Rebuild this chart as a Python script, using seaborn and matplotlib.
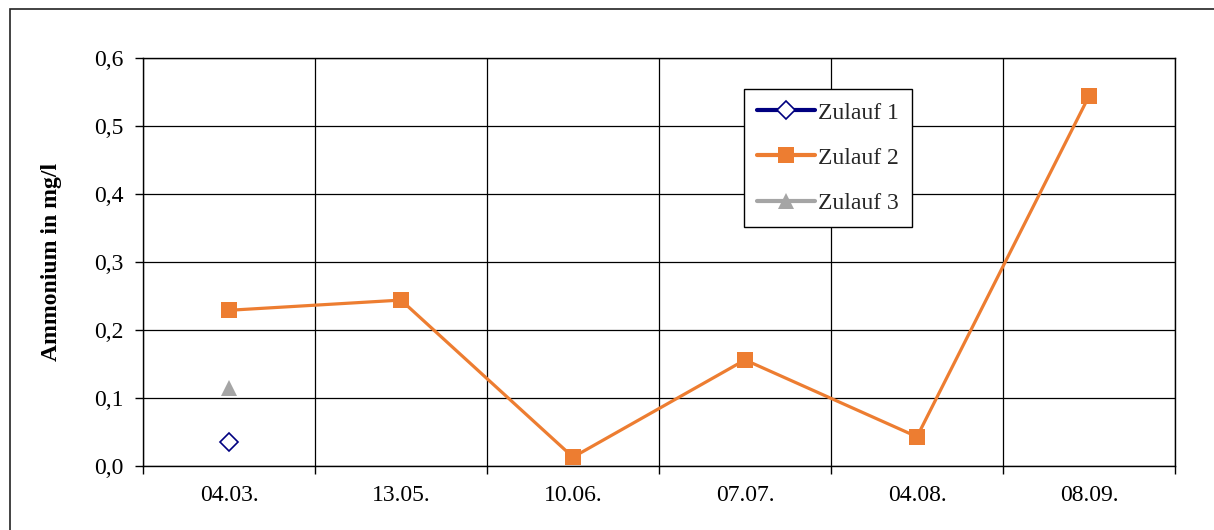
import matplotlib
matplotlib.use("Agg")
import matplotlib.pyplot as plt
from matplotlib.lines import Line2D
from matplotlib.patches import Rectangle
from matplotlib.ticker import FuncFormatter, FixedLocator
import seaborn as sns
import pandas as pd
import numpy as np

dates = ["04.03.", "13.05.", "10.06.", "07.07.", "04.08.", "08.09."]
zulauf1 = [0.035, None, None, None, None, None]
zulauf2 = [0.229, 0.244, 0.013, 0.156, 0.043, 0.544]
zulauf3 = [0.114, None, None, None, None, None]
series_names = ["Zulauf 1", "Zulauf 2", "Zulauf 3"]
y_ticks = [0.0, 0.1, 0.2, 0.3, 0.4, 0.5, 0.6]

sns.set_theme(style="white")
plt.rcParams["font.family"] = ["Liberation Serif", "DejaVu Serif"]

rows = []
for name, vals in zip(series_names, [zulauf1, zulauf2, zulauf3]):
    for i, v in enumerate(vals):
        if v is not None:
            rows.append({"pos": i, "value": v, "series": name})
df = pd.DataFrame(rows)

FS = 17

fig = plt.figure(figsize=(12.14, 5.30), dpi=100)
ax = fig.add_axes([143 / 1214, 1 - 466 / 530, (1175 - 143) / 1214, (466 - 58) / 530])

styles = {
    "Zulauf 1": dict(color="#000080", marker="D", ms=9, mfc="white", mec="#000080", mew=1.2, lw=3),
    "Zulauf 2": dict(color="#ED7D31", marker="s", ms=11, mfc="#ED7D31", mec="#ED7D31", mew=0, lw=2.4),
    "Zulauf 3": dict(color="#A5A5A5", marker="^", ms=12, mfc="#A5A5A5", mec="#A5A5A5", mew=0, lw=3),
}

for name in series_names:
    st = styles[name]
    sub = df[df["series"] == name]
    sns.lineplot(data=sub, x="pos", y="value", ax=ax, color=st["color"],
                 marker=st["marker"], markersize=st["ms"], markerfacecolor=st["mfc"],
                 markeredgecolor=st["mec"], markeredgewidth=st["mew"],
                 linewidth=2.3, legend=False, zorder=3)

ax.set_xlim(-0.5, len(dates) - 0.5)
ax.set_ylim(0, 0.6)
ax.set_xticks(range(len(dates)))
ax.set_xticklabels(dates)
ax.xaxis.set_minor_locator(FixedLocator(np.arange(-0.5, len(dates), 1.0)))
ax.set_yticks(y_ticks)
ax.yaxis.set_major_formatter(FuncFormatter(lambda v, p: f"{v:.1f}".replace(".", ",")))
ax.tick_params(axis="x", which="major", length=0, pad=14, labelsize=FS, colors="black")
ax.tick_params(axis="x", which="minor", length=6, width=1, direction="out", color="black", bottom=True)
ax.tick_params(axis="y", which="major", length=6, width=1, direction="out", left=True, pad=8,
               labelsize=FS, colors="black", color="black")
ax.grid(False)
ax.grid(True, axis="y", which="major", color="black", linewidth=0.9)
ax.grid(True, axis="x", which="minor", color="black", linewidth=0.9)
for s in ax.spines.values():
    s.set_color("black")
    s.set_linewidth(1.0)
ax.set_xlabel("")
ax.set_ylabel("Ammonium in mg/l", fontsize=FS, fontweight="bold", color="black")
ax.yaxis.set_label_coords((62 - 143) / 1032, 0.5)

handles = []
for name in series_names:
    st = styles[name]
    handles.append(Line2D([0], [0], color=st["color"], lw=3, marker=st["marker"],
                          markersize=st["ms"], markerfacecolor=st["mfc"],
                          markeredgecolor=st["mec"], markeredgewidth=st["mew"]))
leg = ax.legend(handles, series_names, loc="upper left",
                bbox_to_anchor=((744 - 143) / 1032, (466 - 89) / 408),
                borderaxespad=0, frameon=True, fancybox=False, fontsize=FS,
                handlelength=2.45, handletextpad=0.12, labelspacing=1.0,
                borderpad=0.55, framealpha=1)
leg.get_frame().set_edgecolor("black")
leg.get_frame().set_linewidth(1.0)

fig.patches.append(Rectangle((10 / 1214, -0.05), 1.1, 1 - 9 / 530 + 0.05,
                             transform=fig.transFigure, fill=False,
                             edgecolor="#222222", linewidth=1.2, zorder=0))

fig.savefig("out.png", dpi=100)
